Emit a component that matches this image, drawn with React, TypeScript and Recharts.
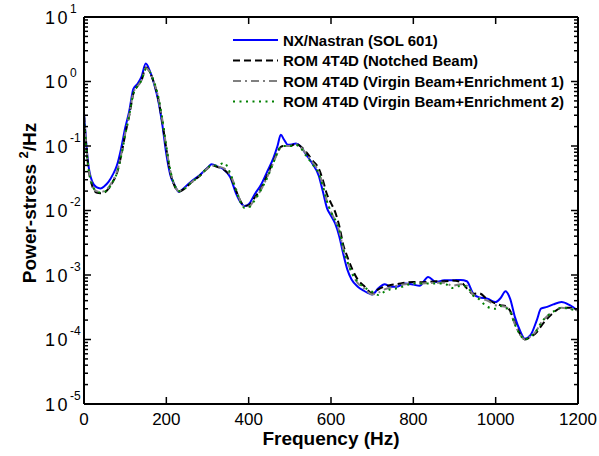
import { Line, LineChart, XAxis, YAxis } from 'recharts'

// frequency grid shared by all four curves (Hz)
const freqHz = [
  0, 5, 10, 20, 30, 40, 50, 60, 70, 80,
  90, 100, 110, 120, 130, 140, 150, 160, 170, 180,
  190, 200, 210, 220, 230, 245, 260, 280, 300, 310,
  325, 340, 355, 370, 380, 390, 400, 415, 430, 445,
  460, 470, 478, 486, 495, 505, 515, 525, 540, 555,
  570, 580, 590, 600, 610, 620, 630, 640, 650, 665,
  680, 700, 715, 730, 745, 760, 780, 800, 815, 836,
  855, 875, 895, 915, 930, 945, 960, 980, 1000, 1012,
  1024, 1035, 1047, 1059, 1071, 1085, 1100, 1110, 1125, 1140,
  1160, 1180, 1200,
]

const nxNastran = [
  0.32, 0.12, 0.055, 0.028, 0.023, 0.022, 0.024, 0.028, 0.036, 0.05,
  0.09, 0.19, 0.35, 0.77, 0.92, 1.2, 1.9, 1.45, 0.93, 0.52,
  0.22, 0.075, 0.035, 0.025, 0.0195, 0.023, 0.028, 0.035, 0.046, 0.052,
  0.048, 0.043, 0.033, 0.018, 0.0135, 0.0117, 0.0125, 0.018, 0.025, 0.04,
  0.065, 0.1, 0.15, 0.125, 0.105, 0.106, 0.109, 0.1, 0.073, 0.053,
  0.035, 0.02, 0.011, 0.0083, 0.0063, 0.004, 0.0021, 0.0012, 0.00085, 0.00066,
  0.00057, 0.0005, 0.00062, 0.00072, 0.00066, 0.00066, 0.00074, 0.00071, 0.00068, 0.00093,
  0.00078, 0.00083, 0.00083, 0.00084, 0.0008, 0.00052, 0.00045, 0.00043, 0.00038, 0.00044,
  0.00056, 0.00043, 0.00022, 0.000138, 0.000103, 0.000118, 0.0002, 0.0003, 0.00032, 0.00035,
  0.00038, 0.00034, 0.00028,
]

const romNotched = [
  0.3, 0.11, 0.05, 0.024, 0.019, 0.0185, 0.019, 0.022, 0.028, 0.038,
  0.07, 0.15, 0.3, 0.65, 0.85, 1.05, 1.65, 1.4, 0.95, 0.55,
  0.24, 0.09, 0.038, 0.024, 0.0195, 0.022, 0.027, 0.034, 0.045, 0.05,
  0.047, 0.043, 0.034, 0.02, 0.014, 0.0118, 0.012, 0.016, 0.022, 0.035,
  0.058, 0.08, 0.097, 0.1, 0.1, 0.102, 0.108, 0.1, 0.08, 0.06,
  0.045, 0.03, 0.018, 0.013, 0.0095, 0.0058, 0.0029, 0.0019, 0.0013, 0.00085,
  0.00068, 0.00052, 0.0006, 0.00066, 0.0007, 0.00072, 0.00076, 0.00078, 0.00077, 0.00078,
  0.0008, 0.0008, 0.00082, 0.00078, 0.00062, 0.00051, 0.00052, 0.00042, 0.00036, 0.00034,
  0.00033, 0.00028, 0.00018, 0.000122, 0.0001, 0.00011, 0.00013, 0.00016, 0.00021, 0.00026,
  0.00031, 0.00031, 0.00028,
]

const romEnrich1 = [
  0.3, 0.11, 0.052, 0.025, 0.02, 0.0195, 0.02, 0.023, 0.029, 0.04,
  0.072, 0.155, 0.31, 0.67, 0.85, 1.05, 1.6, 1.4, 0.97, 0.58,
  0.26, 0.095, 0.04, 0.025, 0.02, 0.022, 0.027, 0.034, 0.045, 0.05,
  0.048, 0.045, 0.036, 0.021, 0.014, 0.0115, 0.0115, 0.015, 0.021, 0.033,
  0.055, 0.078, 0.095, 0.1, 0.1, 0.102, 0.106, 0.098, 0.075, 0.056,
  0.04, 0.025, 0.014, 0.0095, 0.007, 0.0048, 0.0025, 0.0016, 0.0011, 0.00075,
  0.00062, 0.0005, 0.00053, 0.0006, 0.00064, 0.00068, 0.00072, 0.00074, 0.00074, 0.00075,
  0.00076, 0.00076, 0.00068, 0.00072, 0.00068, 0.0005, 0.00044, 0.0004, 0.00034, 0.00033,
  0.00032, 0.00027, 0.00017, 0.00012, 0.0001, 0.000112, 0.00014, 0.00018, 0.00023, 0.00027,
  0.00031, 0.0003, 0.00028,
]

const romEnrich2 = [
  0.28, 0.1, 0.05, 0.025, 0.02, 0.019, 0.0195, 0.022, 0.028, 0.038,
  0.068, 0.15, 0.3, 0.65, 0.85, 1.05, 1.55, 1.4, 1.0, 0.6,
  0.27, 0.1, 0.041, 0.025, 0.02, 0.022, 0.027, 0.034, 0.046, 0.05,
  0.05, 0.055, 0.038, 0.02, 0.0135, 0.011, 0.0112, 0.0145, 0.021, 0.032,
  0.055, 0.08, 0.097, 0.1, 0.1, 0.1, 0.104, 0.095, 0.07, 0.052,
  0.038, 0.024, 0.014, 0.0095, 0.0072, 0.005, 0.0025, 0.0016, 0.0011, 0.00078,
  0.00065, 0.00055, 0.00049, 0.00055, 0.0006, 0.00062, 0.00068, 0.00074, 0.00074, 0.00074,
  0.00074, 0.00074, 0.00063, 0.00068, 0.00066, 0.00048, 0.00042, 0.00032, 0.0003, 0.00033,
  0.00031, 0.00027, 0.00017, 0.00012, 0.0001, 0.000112, 0.00014, 0.00018, 0.00023, 0.00027,
  0.00031, 0.0003, 0.00027,
]

const xTicks = [0, 200, 400, 600, 800, 1000, 1200]
const yDecades = [1e-5, 1e-4, 1e-3, 1e-2, 1e-1, 1, 10]
const minorSteps = [2, 3, 4, 5, 6, 7, 8, 9]

const series = [
  { key: 'nx', name: 'NX/Nastran (SOL 601)', color: '#0000ff', dash: undefined },
  { key: 'notched', name: 'ROM 4T4D (Notched Beam)', color: '#000000', dash: '7 4' },
  { key: 'enr1', name: 'ROM 4T4D (Virgin Beam+Enrichment 1)', color: '#808080', dash: '8 4 2 4' },
  { key: 'enr2', name: 'ROM 4T4D (Virgin Beam+Enrichment 2)', color: '#008000', dash: '2 4.5' },
]

const rows = freqHz.map((f, i) => ({
  f,
  nx: nxNastran[i],
  notched: romNotched[i],
  enr1: romEnrich1[i],
  enr2: romEnrich2[i],
}))

const minorTicks = yDecades.slice(0, -1).flatMap(d => minorSteps.map(m => m * d))

const FONT = '"Liberation Sans", Arial, Helvetica, sans-serif'
const W = 599
const H = 456
// plot box, fixed by the axis widths/heights given to recharts below
const AX_L = 84
const AX_R = 21
const AX_T = 17
const AX_B = 52
const PL = AX_L
const PR = W - AX_R
const PT = AX_T
const PB = H - AX_B

// same linear / log mapping as the chart axes, for the MATLAB-style inward ticks
const xPx = (f: number) => PL + (f / 1200) * (PR - PL)
const yPx = (v: number) => PT + ((1 - Math.log10(v)) / 6) * (PB - PT)

const axisLine = { stroke: '#000', strokeWidth: 2 }
const tickStyle = { stroke: '#000', strokeWidth: 1.5 }

export default function App() {
  return (
    <div style={{ position: 'absolute', left: 0, top: 0, width: W, height: H, background: '#fff' }}>
      <LineChart width={W} height={H} data={rows} margin={{ top: 0, right: 0, bottom: 0, left: 0 }}>
        <XAxis
          xAxisId='bottom'
          dataKey='f'
          type='number'
          domain={[0, 1200]}
          ticks={xTicks}
          height={AX_B}
          tick={false}
          tickLine={false}
          axisLine={axisLine}
          allowDataOverflow
        />
        <XAxis
          xAxisId='top'
          orientation='top'
          dataKey='f'
          type='number'
          domain={[0, 1200]}
          ticks={xTicks}
          height={AX_T}
          tick={false}
          tickLine={false}
          axisLine={axisLine}
          allowDataOverflow
        />
        <YAxis
          yAxisId='left'
          type='number'
          scale='log'
          domain={[1e-5, 10]}
          ticks={yDecades}
          width={AX_L}
          tick={false}
          tickLine={false}
          axisLine={axisLine}
          allowDataOverflow
        />
        <YAxis
          yAxisId='right'
          orientation='right'
          type='number'
          scale='log'
          domain={[1e-5, 10]}
          ticks={yDecades}
          width={AX_R}
          tick={false}
          tickLine={false}
          axisLine={axisLine}
          allowDataOverflow
        />
        {series.map(s => (
          <Line
            key={s.key}
            xAxisId='bottom'
            yAxisId='left'
            type='monotone'
            dataKey={s.key}
            name={s.name}
            stroke={s.color}
            strokeWidth={2}
            strokeDasharray={s.dash}
            dot={false}
            activeDot={false}
            isAnimationActive={false}
          />
        ))}
      </LineChart>
      <svg
        width={W}
        height={H}
        style={{ position: 'absolute', left: 0, top: 0, pointerEvents: 'none' }}
      >
        {/* inward ticks on all four sides */}
        {yDecades.map(v => (
          <g key={`M${v}`}>
            <line x1={PL} x2={PL + 7} y1={yPx(v)} y2={yPx(v)} {...tickStyle} />
            <line x1={PR - 7} x2={PR} y1={yPx(v)} y2={yPx(v)} {...tickStyle} />
          </g>
        ))}
        {minorTicks.map(v => (
          <g key={`m${v}`}>
            <line x1={PL} x2={PL + 4} y1={yPx(v)} y2={yPx(v)} {...tickStyle} />
            <line x1={PR - 4} x2={PR} y1={yPx(v)} y2={yPx(v)} {...tickStyle} />
          </g>
        ))}
        {xTicks.map(f => (
          <g key={`x${f}`}>
            <line x1={xPx(f)} x2={xPx(f)} y1={PB} y2={PB - 7} {...tickStyle} />
            <line x1={xPx(f)} x2={xPx(f)} y1={PT} y2={PT + 7} {...tickStyle} />
            <text x={xPx(f)} y={PB + 21} textAnchor='middle' fontSize={17} fontFamily={FONT} fill='#000'>
              {f}
            </text>
          </g>
        ))}
        {yDecades.map(v => (
          <text key={`l${v}`} x={PL - 39} y={yPx(v) + 6.5} fontSize={18} fontFamily={FONT} fill='#000' letterSpacing={2.5}>
            10
            <tspan dy={-11} fontSize={12} letterSpacing={0}>{Math.round(Math.log10(v))}</tspan>
          </text>
        ))}

        <text x={331} y={445} textAnchor='middle' fontSize={19} fontWeight='bold' fontFamily={FONT}>
          Frequency (Hz)
        </text>
        <text
          transform='rotate(-90)'
          x={-203}
          y={36}
          textAnchor='middle'
          fontSize={19}
          fontWeight='bold'
          fontFamily={FONT}
        >
          Power-stress{' '}
          <tspan dy={-8} fontSize={13}>2</tspan>
          <tspan dy={8}>/Hz</tspan>
        </text>
        {series.map((s, i) => {
          const cy = 40 + i * 20.5
          return (
            <g key={s.key}>
              <line x1={233} x2={278} y1={cy} y2={cy} stroke={s.color} strokeWidth={2} strokeDasharray={s.dash} />
              <text x={283} y={cy + 5.5} fontSize={15} fontWeight='bold' fontFamily={FONT}>
                {s.name}
              </text>
            </g>
          )
        })}
      </svg>
    </div>
  )
}
